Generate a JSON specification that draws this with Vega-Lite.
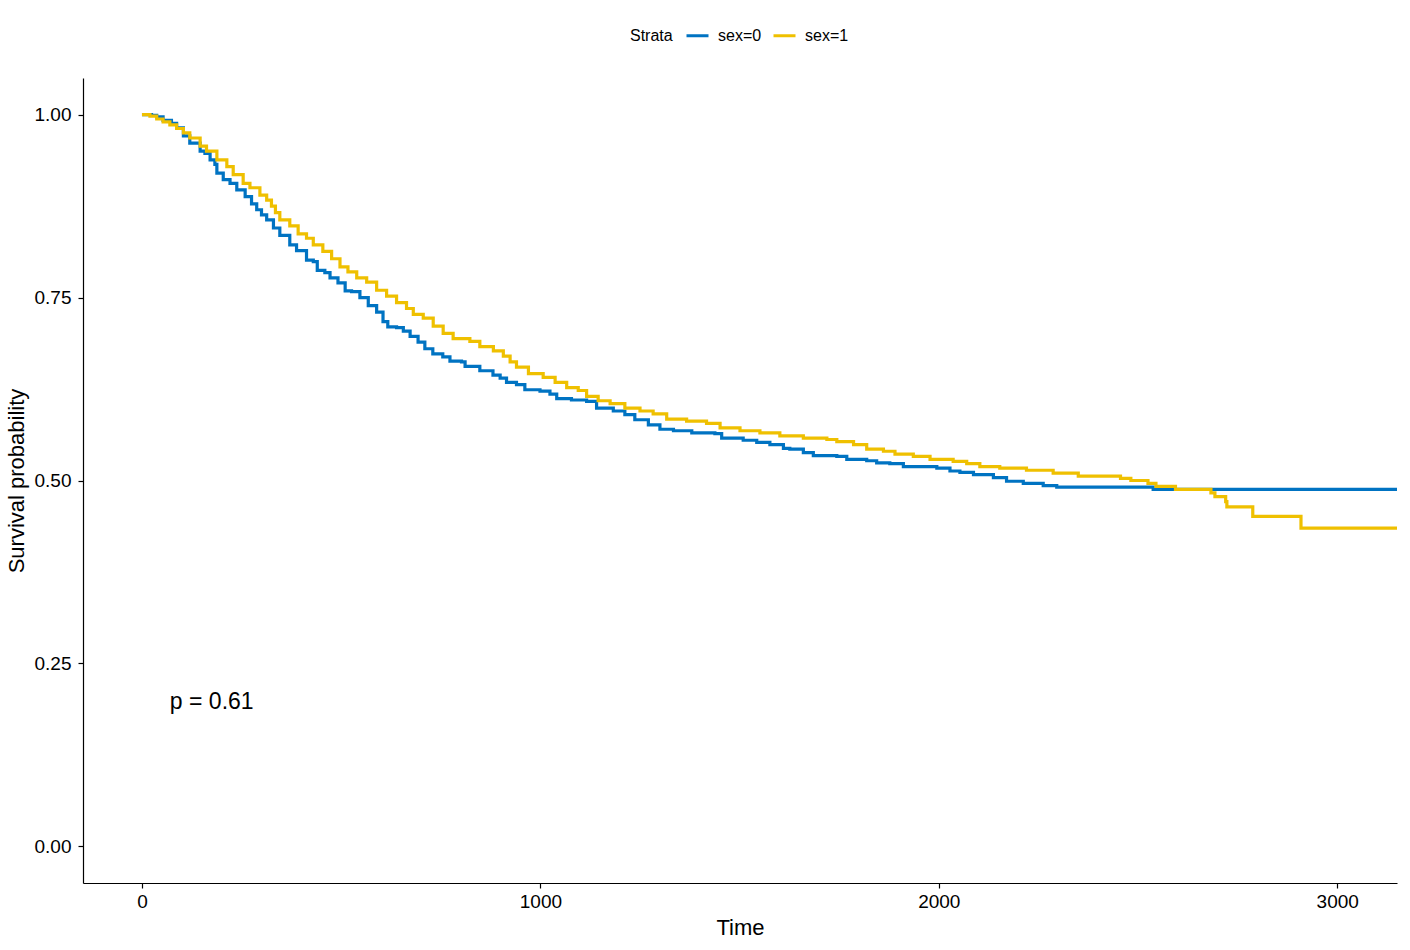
{
  "$schema": "https://vega.github.io/schema/vega-lite/v6.json",
  "width": 1314,
  "height": 805,
  "autosize": {"type": "none"},
  "padding": {"left": 83, "top": 78, "right": 13, "bottom": 67},
  "background": "white",
  "config": {
    "view": {"stroke": null},
    "font": "Liberation Sans",
    "axis": {
      "grid": false,
      "domainColor": "black",
      "domainWidth": 1.2,
      "tickColor": "black",
      "tickWidth": 1.2,
      "tickSize": 5,
      "labelColor": "black",
      "labelFont": "Liberation Sans",
      "labelFontSize": 19,
      "titleColor": "black",
      "titleFont": "Liberation Sans",
      "titleFontSize": 22,
      "titleFontWeight": "normal"
    }
  },
  "datasets": {
    "curves": [
      {"time": 0, "surv": 1.0, "strata": "sex=0"},
      {"time": 24, "surv": 0.999, "strata": "sex=0"},
      {"time": 37, "surv": 0.997, "strata": "sex=0"},
      {"time": 53, "surv": 0.992, "strata": "sex=0"},
      {"time": 74, "surv": 0.988, "strata": "sex=0"},
      {"time": 87, "surv": 0.982, "strata": "sex=0"},
      {"time": 104, "surv": 0.971, "strata": "sex=0"},
      {"time": 120, "surv": 0.961, "strata": "sex=0"},
      {"time": 146, "surv": 0.950, "strata": "sex=0"},
      {"time": 158, "surv": 0.947, "strata": "sex=0"},
      {"time": 171, "surv": 0.938, "strata": "sex=0"},
      {"time": 183, "surv": 0.932, "strata": "sex=0"},
      {"time": 188, "surv": 0.920, "strata": "sex=0"},
      {"time": 204, "surv": 0.911, "strata": "sex=0"},
      {"time": 221, "surv": 0.906, "strata": "sex=0"},
      {"time": 238, "surv": 0.897, "strata": "sex=0"},
      {"time": 259, "surv": 0.888, "strata": "sex=0"},
      {"time": 275, "surv": 0.878, "strata": "sex=0"},
      {"time": 288, "surv": 0.870, "strata": "sex=0"},
      {"time": 300, "surv": 0.863, "strata": "sex=0"},
      {"time": 313, "surv": 0.856, "strata": "sex=0"},
      {"time": 330, "surv": 0.845, "strata": "sex=0"},
      {"time": 346, "surv": 0.835, "strata": "sex=0"},
      {"time": 371, "surv": 0.822, "strata": "sex=0"},
      {"time": 388, "surv": 0.814, "strata": "sex=0"},
      {"time": 413, "surv": 0.801, "strata": "sex=0"},
      {"time": 430, "surv": 0.799, "strata": "sex=0"},
      {"time": 440, "surv": 0.787, "strata": "sex=0"},
      {"time": 459, "surv": 0.784, "strata": "sex=0"},
      {"time": 472, "surv": 0.777, "strata": "sex=0"},
      {"time": 492, "surv": 0.770, "strata": "sex=0"},
      {"time": 510, "surv": 0.759, "strata": "sex=0"},
      {"time": 526, "surv": 0.758, "strata": "sex=0"},
      {"time": 547, "surv": 0.750, "strata": "sex=0"},
      {"time": 568, "surv": 0.739, "strata": "sex=0"},
      {"time": 589, "surv": 0.730, "strata": "sex=0"},
      {"time": 605, "surv": 0.717, "strata": "sex=0"},
      {"time": 617, "surv": 0.710, "strata": "sex=0"},
      {"time": 639, "surv": 0.709, "strata": "sex=0"},
      {"time": 656, "surv": 0.704, "strata": "sex=0"},
      {"time": 673, "surv": 0.697, "strata": "sex=0"},
      {"time": 693, "surv": 0.689, "strata": "sex=0"},
      {"time": 710, "surv": 0.680, "strata": "sex=0"},
      {"time": 730, "surv": 0.673, "strata": "sex=0"},
      {"time": 755, "surv": 0.669, "strata": "sex=0"},
      {"time": 773, "surv": 0.663, "strata": "sex=0"},
      {"time": 802, "surv": 0.662, "strata": "sex=0"},
      {"time": 811, "surv": 0.656, "strata": "sex=0"},
      {"time": 848, "surv": 0.650, "strata": "sex=0"},
      {"time": 881, "surv": 0.644, "strata": "sex=0"},
      {"time": 899, "surv": 0.640, "strata": "sex=0"},
      {"time": 915, "surv": 0.634, "strata": "sex=0"},
      {"time": 940, "surv": 0.631, "strata": "sex=0"},
      {"time": 961, "surv": 0.624, "strata": "sex=0"},
      {"time": 999, "surv": 0.622, "strata": "sex=0"},
      {"time": 1024, "surv": 0.618, "strata": "sex=0"},
      {"time": 1041, "surv": 0.612, "strata": "sex=0"},
      {"time": 1078, "surv": 0.610, "strata": "sex=0"},
      {"time": 1116, "surv": 0.608, "strata": "sex=0"},
      {"time": 1141, "surv": 0.599, "strata": "sex=0"},
      {"time": 1183, "surv": 0.595, "strata": "sex=0"},
      {"time": 1212, "surv": 0.590, "strata": "sex=0"},
      {"time": 1237, "surv": 0.583, "strata": "sex=0"},
      {"time": 1271, "surv": 0.576, "strata": "sex=0"},
      {"time": 1300, "surv": 0.570, "strata": "sex=0"},
      {"time": 1334, "surv": 0.568, "strata": "sex=0"},
      {"time": 1380, "surv": 0.565, "strata": "sex=0"},
      {"time": 1438, "surv": 0.564, "strata": "sex=0"},
      {"time": 1455, "surv": 0.558, "strata": "sex=0"},
      {"time": 1509, "surv": 0.555, "strata": "sex=0"},
      {"time": 1543, "surv": 0.552, "strata": "sex=0"},
      {"time": 1576, "surv": 0.549, "strata": "sex=0"},
      {"time": 1610, "surv": 0.544, "strata": "sex=0"},
      {"time": 1626, "surv": 0.543, "strata": "sex=0"},
      {"time": 1660, "surv": 0.538, "strata": "sex=0"},
      {"time": 1685, "surv": 0.534, "strata": "sex=0"},
      {"time": 1744, "surv": 0.533, "strata": "sex=0"},
      {"time": 1769, "surv": 0.529, "strata": "sex=0"},
      {"time": 1819, "surv": 0.527, "strata": "sex=0"},
      {"time": 1844, "surv": 0.524, "strata": "sex=0"},
      {"time": 1877, "surv": 0.523, "strata": "sex=0"},
      {"time": 1911, "surv": 0.519, "strata": "sex=0"},
      {"time": 1995, "surv": 0.517, "strata": "sex=0"},
      {"time": 2028, "surv": 0.513, "strata": "sex=0"},
      {"time": 2053, "surv": 0.511, "strata": "sex=0"},
      {"time": 2087, "surv": 0.508, "strata": "sex=0"},
      {"time": 2137, "surv": 0.504, "strata": "sex=0"},
      {"time": 2170, "surv": 0.499, "strata": "sex=0"},
      {"time": 2212, "surv": 0.496, "strata": "sex=0"},
      {"time": 2262, "surv": 0.493, "strata": "sex=0"},
      {"time": 2296, "surv": 0.491, "strata": "sex=0"},
      {"time": 2538, "surv": 0.488, "strata": "sex=0"},
      {"time": 3150, "surv": 0.488, "strata": "sex=0"},
      {"time": 0, "surv": 1.0, "strata": "sex=1"},
      {"time": 20, "surv": 0.998, "strata": "sex=1"},
      {"time": 37, "surv": 0.994, "strata": "sex=1"},
      {"time": 53, "surv": 0.990, "strata": "sex=1"},
      {"time": 70, "surv": 0.986, "strata": "sex=1"},
      {"time": 87, "surv": 0.981, "strata": "sex=1"},
      {"time": 104, "surv": 0.975, "strata": "sex=1"},
      {"time": 120, "surv": 0.968, "strata": "sex=1"},
      {"time": 146, "surv": 0.957, "strata": "sex=1"},
      {"time": 162, "surv": 0.950, "strata": "sex=1"},
      {"time": 188, "surv": 0.938, "strata": "sex=1"},
      {"time": 213, "surv": 0.929, "strata": "sex=1"},
      {"time": 229, "surv": 0.918, "strata": "sex=1"},
      {"time": 254, "surv": 0.906, "strata": "sex=1"},
      {"time": 271, "surv": 0.900, "strata": "sex=1"},
      {"time": 296, "surv": 0.890, "strata": "sex=1"},
      {"time": 313, "surv": 0.883, "strata": "sex=1"},
      {"time": 325, "surv": 0.875, "strata": "sex=1"},
      {"time": 335, "surv": 0.866, "strata": "sex=1"},
      {"time": 346, "surv": 0.856, "strata": "sex=1"},
      {"time": 371, "surv": 0.848, "strata": "sex=1"},
      {"time": 392, "surv": 0.837, "strata": "sex=1"},
      {"time": 413, "surv": 0.831, "strata": "sex=1"},
      {"time": 430, "surv": 0.822, "strata": "sex=1"},
      {"time": 454, "surv": 0.813, "strata": "sex=1"},
      {"time": 476, "surv": 0.803, "strata": "sex=1"},
      {"time": 497, "surv": 0.792, "strata": "sex=1"},
      {"time": 517, "surv": 0.785, "strata": "sex=1"},
      {"time": 539, "surv": 0.777, "strata": "sex=1"},
      {"time": 564, "surv": 0.771, "strata": "sex=1"},
      {"time": 589, "surv": 0.760, "strata": "sex=1"},
      {"time": 614, "surv": 0.752, "strata": "sex=1"},
      {"time": 639, "surv": 0.743, "strata": "sex=1"},
      {"time": 664, "surv": 0.735, "strata": "sex=1"},
      {"time": 681, "surv": 0.727, "strata": "sex=1"},
      {"time": 706, "surv": 0.722, "strata": "sex=1"},
      {"time": 731, "surv": 0.711, "strata": "sex=1"},
      {"time": 756, "surv": 0.701, "strata": "sex=1"},
      {"time": 781, "surv": 0.694, "strata": "sex=1"},
      {"time": 823, "surv": 0.690, "strata": "sex=1"},
      {"time": 848, "surv": 0.683, "strata": "sex=1"},
      {"time": 882, "surv": 0.677, "strata": "sex=1"},
      {"time": 907, "surv": 0.670, "strata": "sex=1"},
      {"time": 924, "surv": 0.662, "strata": "sex=1"},
      {"time": 940, "surv": 0.655, "strata": "sex=1"},
      {"time": 970, "surv": 0.646, "strata": "sex=1"},
      {"time": 1007, "surv": 0.641, "strata": "sex=1"},
      {"time": 1037, "surv": 0.634, "strata": "sex=1"},
      {"time": 1066, "surv": 0.627, "strata": "sex=1"},
      {"time": 1095, "surv": 0.623, "strata": "sex=1"},
      {"time": 1116, "surv": 0.615, "strata": "sex=1"},
      {"time": 1145, "surv": 0.609, "strata": "sex=1"},
      {"time": 1175, "surv": 0.605, "strata": "sex=1"},
      {"time": 1212, "surv": 0.599, "strata": "sex=1"},
      {"time": 1250, "surv": 0.595, "strata": "sex=1"},
      {"time": 1283, "surv": 0.591, "strata": "sex=1"},
      {"time": 1317, "surv": 0.584, "strata": "sex=1"},
      {"time": 1367, "surv": 0.581, "strata": "sex=1"},
      {"time": 1417, "surv": 0.578, "strata": "sex=1"},
      {"time": 1451, "surv": 0.572, "strata": "sex=1"},
      {"time": 1501, "surv": 0.568, "strata": "sex=1"},
      {"time": 1551, "surv": 0.565, "strata": "sex=1"},
      {"time": 1601, "surv": 0.561, "strata": "sex=1"},
      {"time": 1660, "surv": 0.558, "strata": "sex=1"},
      {"time": 1719, "surv": 0.556, "strata": "sex=1"},
      {"time": 1744, "surv": 0.553, "strata": "sex=1"},
      {"time": 1786, "surv": 0.549, "strata": "sex=1"},
      {"time": 1819, "surv": 0.543, "strata": "sex=1"},
      {"time": 1861, "surv": 0.540, "strata": "sex=1"},
      {"time": 1890, "surv": 0.536, "strata": "sex=1"},
      {"time": 1936, "surv": 0.533, "strata": "sex=1"},
      {"time": 1978, "surv": 0.529, "strata": "sex=1"},
      {"time": 2036, "surv": 0.526, "strata": "sex=1"},
      {"time": 2070, "surv": 0.523, "strata": "sex=1"},
      {"time": 2103, "surv": 0.519, "strata": "sex=1"},
      {"time": 2153, "surv": 0.517, "strata": "sex=1"},
      {"time": 2220, "surv": 0.514, "strata": "sex=1"},
      {"time": 2287, "surv": 0.510, "strata": "sex=1"},
      {"time": 2350, "surv": 0.506, "strata": "sex=1"},
      {"time": 2456, "surv": 0.503, "strata": "sex=1"},
      {"time": 2482, "surv": 0.500, "strata": "sex=1"},
      {"time": 2525, "surv": 0.496, "strata": "sex=1"},
      {"time": 2545, "surv": 0.492, "strata": "sex=1"},
      {"time": 2594, "surv": 0.488, "strata": "sex=1"},
      {"time": 2683, "surv": 0.483, "strata": "sex=1"},
      {"time": 2693, "surv": 0.478, "strata": "sex=1"},
      {"time": 2720, "surv": 0.471, "strata": "sex=1"},
      {"time": 2723, "surv": 0.464, "strata": "sex=1"},
      {"time": 2788, "surv": 0.451, "strata": "sex=1"},
      {"time": 2909, "surv": 0.435, "strata": "sex=1"},
      {"time": 3150, "surv": 0.435, "strata": "sex=1"}
    ],
    "annot": [
      {"time": 70, "surv": 0.197, "label": "p = 0.61"}
    ]
  },
  "layer": [
    {
      "data": {"name": "curves"},
      "mark": {"type": "line", "interpolate": "step-after", "strokeWidth": 3.2, "clip": true},
      "encoding": {
        "x": {
          "field": "time", "type": "quantitative",
          "scale": {"domain": [-148, 3150], "nice": false, "zero": false},
          "axis": {"values": [0, 1000, 2000, 3000], "title": "Time", "labelPadding": 4, "titlePadding": 6, "format": "d"}
        },
        "y": {
          "field": "surv", "type": "quantitative",
          "scale": {"domain": [-0.05, 1.05], "nice": false, "zero": false},
          "axis": {"values": [0, 0.25, 0.5, 0.75, 1], "format": ".2f", "title": "Survival probability", "labelPadding": 7, "titlePadding": 6}
        },
        "color": {
          "field": "strata", "type": "nominal",
          "scale": {"domain": ["sex=0", "sex=1"], "range": ["#0073C2", "#EFC000"]},
          "legend": {
            "title": "Strata",
            "orient": "none",
            "direction": "horizontal",
            "legendX": 547,
            "legendY": -55,
            "titleOrient": "left",
            "titleAnchor": "end",
            "titleBaseline": "bottom",
            "titleFont": "Liberation Sans",
            "titleFontSize": 16,
            "titleFontWeight": "normal",
            "titleColor": "black",
            "titlePadding": 12,
            "labelFont": "Liberation Sans",
            "labelFontSize": 16,
            "labelColor": "black",
            "labelOffset": 8,
            "symbolType": "stroke",
            "symbolSize": 484,
            "symbolStrokeWidth": 3,
            "columnPadding": 5
          }
        }
      }
    },
    {
      "data": {"name": "annot"},
      "mark": {"type": "text", "align": "left", "baseline": "middle", "fontSize": 23, "font": "Liberation Sans", "color": "black"},
      "encoding": {
        "x": {"field": "time", "type": "quantitative"},
        "y": {"field": "surv", "type": "quantitative"},
        "text": {"field": "label"}
      }
    }
  ]
}
